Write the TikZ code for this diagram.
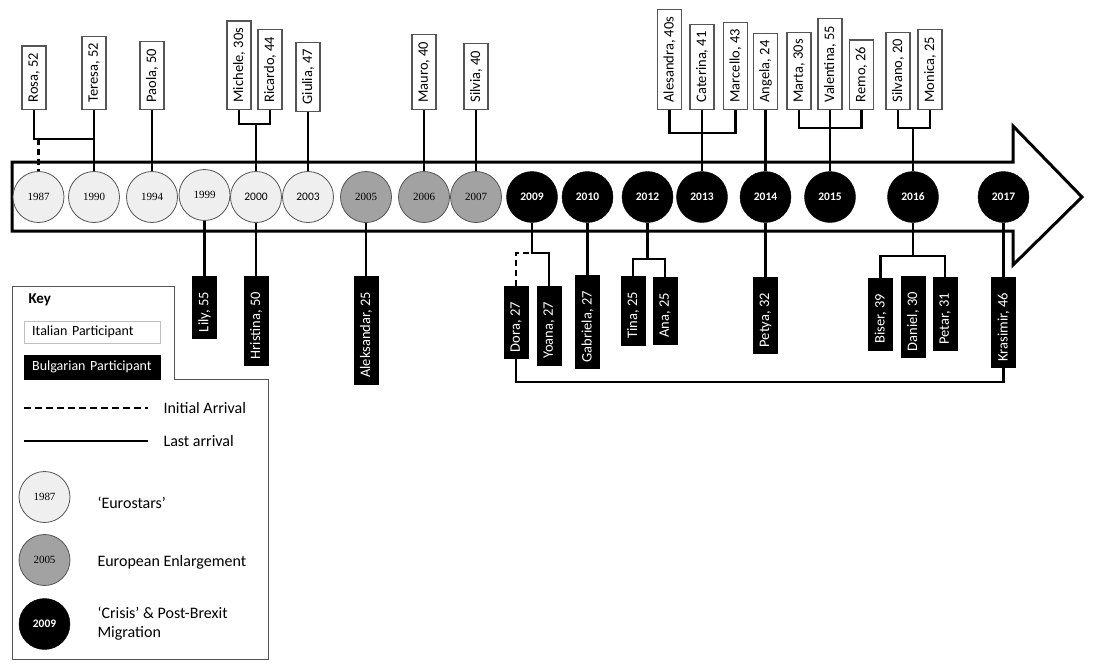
\documentclass[tikz,border=0pt]{standalone}
\usepackage{fontspec}
\setmainfont{Carlito}
\newfontfamily\yearserif{Liberation Serif}
\definecolor{eurofill}{HTML}{EFEFEF}
\definecolor{enlargefill}{HTML}{A2A2A2}
\definecolor{rimgray}{HTML}{555555}

\begin{document}
\begin{tikzpicture} [x=1pt, y=-1pt,
    link/.style = {line width=2.6pt},
    itbox/.style = {draw=rimgray, line width=1.2pt, fill=white, rotate=90, minimum height=24pt, inner xsep=7pt, inner ysep=0pt, font=\fontsize{14.5}{14.5}\selectfont},
    bgbox/.style = {draw=black, fill=black, text=white, rotate=90, minimum height=24pt, inner xsep=6pt, inner ysep=0pt, font=\fontsize{14.5}{14.5}\selectfont, execute at end node=\hspace{10pt}},
    euro/.style = {circle, draw=rimgray, line width=0.8pt, fill=eurofill, minimum size=51pt, inner sep=0pt, font=\yearserif\fontsize{11}{11}\selectfont},
    enlarge/.style = {euro, fill=enlargefill},
    crisis/.style = {circle, draw=black, fill=black, text=white, minimum size=51pt, inner sep=0pt, font=\bfseries\fontsize{11.5}{11.5}\selectfont},
    keytext/.style = {anchor=west, font=\fontsize{16}{19}\selectfont, align=left}]
    \useasboundingbox (0,0) rectangle (1093,670);

    % Zeitpfeil
    \draw [line width=3pt] (12,162) -- (1013,162) -- (1013,126) -- (1082,197) -- (1013,265) -- (1013,231) -- (12,231) -- cycle;

    % Jahre
    \node [euro] (y1987) at (38.5,197) {1987};
    \node [euro] (y1990) at (94,197) {1990};
    \node [euro] (y1994) at (152,197) {1994};
    \node [euro] (y1999) at (204.5,195) {1999};
    \node [euro, font=\fontsize{11.5}{11.5}\selectfont] (y2000) at (256,197) {2000};
    \node [euro, font=\fontsize{11.5}{11.5}\selectfont] (y2003) at (308,197) {2003};
    \node [enlarge] (y2005) at (366,197) {2005};
    \node [enlarge] (y2006) at (424,197) {2006};
    \node [enlarge] (y2007) at (476,197) {2007};
    \node [crisis] (y2009) at (532,197) {2009};
    \node [crisis] (y2010) at (587.5,197) {2010};
    \node [crisis] (y2012) at (647.5,197) {2012};
    \node [crisis] (y2013) at (702,197) {2013};
    \node [crisis] (y2014) at (765.5,197) {2014};
    \node [crisis] (y2015) at (830,197) {2015};
    \node [crisis] (y2016) at (913,197) {2016};
    \node [crisis] (y2017) at (1003.5,197) {2017};

    % Italienische Teilnehmer (oben)
    \node [itbox, anchor=west] (rosa) at (34,110) {Rosa, 52};
    \node [itbox, anchor=west] (teresa) at (y1990 |- 0,110) {Teresa, 52};
    \node [itbox, anchor=west] (paola) at (y1994 |- 0,110) {Paola, 50};
    \node [itbox, anchor=west] (michele) at (239,110) {Michele, 30s};
    \node [itbox, anchor=west] (ricardo) at (270,110) {Ricardo, 44};
    \node [itbox, anchor=west] (giulia) at (y2003 |- 0,112) {Giulia, 47};
    \node [itbox, anchor=west] (mauro) at (y2006 |- 0,110) {Mauro, 40};
    \node [itbox, anchor=west] (silvia) at (y2007 |- 0,110) {Silvia, 40};
    \node [itbox, anchor=west] (alesandra) at (669.5,110) {Alesandra, 40s};
    \node [itbox, anchor=west] (caterina) at (y2013 |- 0,110) {Caterina, 41};
    \node [itbox, anchor=west] (marcello) at (735.5,110) {Marcello, 43};
    \node [itbox, anchor=west] (angela) at (y2014 |- 0,110) {Angela, 24};
    \node [itbox, anchor=west] (marta) at (799,110) {Marta, 30s};
    \node [itbox, anchor=west] (valentina) at (y2015 |- 0,110) {Valentina, 55};
    \node [itbox, anchor=west] (remo) at (861.5,110) {Remo, 26};
    \node [itbox, anchor=west] (silvano) at (898,110) {Silvano, 20};
    \node [itbox, anchor=west] (monica) at (930,110) {Monica, 25};

    % Verbindungen oben
    \draw [link] (rosa.west) |- (y1990.north |- 0,139);
    \draw [link, dash pattern=on 6pt off 4pt] (y1987.north |- 0,139) -- (y1987.north);
    \draw [link] (teresa.west) -- (y1990.north);
    \draw [link] (paola.west) -- (y1994.north);
    \draw [link] (michele.west) |- (ricardo.west |- 0,124) -- (ricardo.west);
    \draw [link] (y2000.north |- 0,124) -- (y2000.north);
    \draw [link] (giulia.west) -- (y2003.north);
    \draw [link] (mauro.west) -- (y2006.north);
    \draw [link] (silvia.west) -- (y2007.north);
    \draw [link] (alesandra.west) |- (marcello.west |- 0,133) -- (marcello.west);
    \draw [link] (caterina.west) -- (y2013.north);
    \draw [link] (angela.west) -- (y2014.north);
    \draw [link] (marta.west) |- (remo.west |- 0,128) -- (remo.west);
    \draw [link] (valentina.west) -- (y2015.north);
    \draw [link] (silvano.west) |- (monica.west |- 0,128) -- (monica.west);
    \draw [link] (y2016.north |- 0,128) -- (y2016.north);

    % Bulgarische Teilnehmer (unten)
    \node [bgbox, anchor=east] (lily) at (y1999 |- 0,276) {Lily, 55};
    \node [bgbox, anchor=east] (hristina) at (y2000 |- 0,276) {Hristina, 50};
    \node [bgbox, anchor=east] (aleksandar) at (y2005 |- 0,276) {Aleksandar, 25};
    \node [bgbox, anchor=east] (dora) at (516,286) {Dora, 27};
    \node [bgbox, anchor=east] (yoana) at (549,286) {Yoana, 27};
    \node [bgbox, anchor=east] (gabriela) at (y2010 |- 0,275) {Gabriela, 27};
    \node [bgbox, anchor=east] (tina) at (633,276) {Tina, 25};
    \node [bgbox, anchor=east] (ana) at (665,277) {Ana, 25};
    \node [bgbox, anchor=east] (petya) at (y2014 |- 0,277) {Petya, 32};
    \node [bgbox, anchor=east] (biser) at (880.5,278) {Biser, 39};
    \node [bgbox, anchor=east] (daniel) at (913,276) {Daniel, 30};
    \node [bgbox, anchor=east] (petar) at (945,277) {Petar, 31};
    \node [bgbox, anchor=east] (krasimir) at (y2017 |- 0,277) {Krasimir, 46};

    % Verbindungen unten
    \draw [link] (y1999.south) -- (lily.east);
    \draw [link] (y2000.south) -- (hristina.east);
    \draw [link] (y2005.south) -- (aleksandar.east);
    \draw [link, dash pattern=on 6pt off 4pt] (dora.east) |- (y2009.south |- 0,253);
    \draw [link] (y2009.south) |- (yoana.east |- 0,253) -- (yoana.east);
    \draw [link] (y2010.south) -- (gabriela.east);
    \draw [link] (tina.east) |- (ana.east |- 0,259) -- (ana.east);
    \draw [link] (y2012.south) -- (y2012.south |- 0,259);
    \draw [link] (y2014.south) -- (petya.east);
    \draw [link] (biser.east) |- (petar.east |- 0,256) -- (petar.east);
    \draw [link] (y2016.south) -- (y2016.south |- 0,256);
    \draw [link] (y2017.south) -- (krasimir.east);
    \draw [link] (dora.west) |- (krasimir.west |- 0,382) -- (krasimir.west);

    % Legende
    \draw [line width=0.9pt, rimgray] (12,286) -- (174,286) -- (174,379) -- (268,379) -- (268,659) -- (12,659) -- cycle;
    \node [anchor=west, font=\bfseries\fontsize{15}{15}\selectfont] (keytitle) at (25,300) {Key};
    \node [draw=black!25, fill=white, minimum width=136pt, minimum height=22pt, inner xsep=8pt, anchor=west, font=\fontsize{14}{14}\selectfont, text width=120pt] (keyitalian) at (24,332) {Italian Participant};
    \node [draw=black, fill=black, text=white, minimum width=136pt, minimum height=24pt, inner xsep=8pt, anchor=west, font=\fontsize{14}{14}\selectfont, text width=120pt] (keybulgarian) at (24,367) {Bulgarian Participant};
    \node [keytext] (keyinitial) at (160,408) {Initial Arrival};
    \node [keytext] (keylast) at (160,441) {Last arrival};
    \draw [link, dash pattern=on 7pt off 4pt] (24,408) -- (148,408);
    \draw [link] (24,441) -- (148,441);
    \node [euro] (keyeuro) at (44.5,497) {1987};
    \node [enlarge] (keyenlarge) at (44.5,560) {2005};
    \node [crisis] (keycrisis) at (44.5,624) {2009};
    \node [keytext] (keyeurotext) at (94,503) {‘Eurostars’};
    \node [keytext] (keyenlargetext) at (94,562) {European Enlargement};
    \node [keytext] (keycrisistext) at (94,624) {‘Crisis’ \& Post-Brexit\\Migration};
\end{tikzpicture}
\end{document}
